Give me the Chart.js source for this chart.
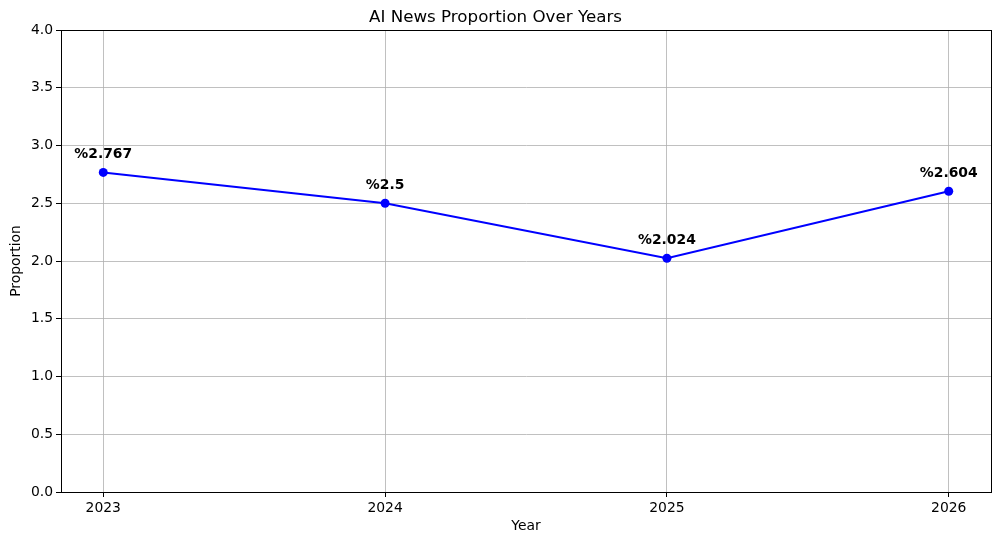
<!DOCTYPE html>
<html>
<head>
<meta charset="utf-8">
<script src="https://cdn.jsdelivr.net/npm/chart.js@4/dist/chart.umd.min.js"></script>
<style>
html,body{margin:0;padding:0;background:#fff;}
#wrap{width:1001px;height:545px;}
</style>
</head>
<body>
<div id="wrap"><canvas id="c" width="1001" height="545"></canvas></div>
<script>
const years = [2023, 2024, 2025, 2026];
const proportions = [2.767, 2.5, 2.024, 2.604];
const pointLabels = ['%2.767', '%2.5', '%2.024', '%2.604'];
const yTicks = [0, 0.5, 1, 1.5, 2, 2.5, 3, 3.5, 4];

const FONT = "'DejaVu Sans', sans-serif";

const framePlugin = {
  id: 'frame',
  afterDatasetsDraw(chart) {
    const {ctx, chartArea: a} = chart;
    ctx.save();
    ctx.strokeStyle = '#000';
    ctx.lineWidth = 1;
    ctx.strokeRect(Math.round(a.left) + 0.5, Math.round(a.top) + 0.5,
                   Math.round(a.right - a.left), Math.round(a.bottom - a.top));
    ctx.restore();
  }
};

const labelPlugin = {
  id: 'ptlabels',
  afterDatasetsDraw(chart) {
    const {ctx} = chart;
    const meta = chart.getDatasetMeta(0);
    ctx.save();
    ctx.font = 'bold 13.9px ' + FONT;
    ctx.fillStyle = '#000';
    ctx.textAlign = 'center';
    ctx.textBaseline = 'alphabetic';
    meta.data.forEach((pt, i) => {
      ctx.fillText(pointLabels[i], pt.x, pt.y - 14.5);
    });
    ctx.restore();
  }
};

new Chart(document.getElementById('c'), {
  type: 'line',
  data: {
    datasets: [{
      data: years.map((y, i) => ({x: y, y: proportions[i]})),
      borderColor: '#0000ff',
      backgroundColor: '#0000ff',
      borderWidth: 2,
      pointRadius: 4.5,
      pointHoverRadius: 4.5,
      pointBackgroundColor: '#0000ff',
      pointBorderWidth: 0,
      tension: 0,
      fill: false
    }]
  },
  options: {
    responsive: false,
    animation: false,
    events: [],
    layout: {padding: {left: 0, right: 10, top: 0, bottom: 0}},
    plugins: {
      legend: {display: false},
      tooltip: {enabled: false},
      title: {
        display: true,
        text: 'AI News Proportion Over Years',
        color: '#000',
        font: {family: FONT, size: 16.7, weight: 'normal', lineHeight: 1.2},
        padding: {top: 8, bottom: 2}
      }
    },
    scales: {
      x: {
        type: 'linear',
        min: 2022.85,
        max: 2026.15,
        afterBuildTicks(scale) { scale.ticks = years.map(v => ({value: v})); },
        afterFit(scale) { scale.height = 53; },
        ticks: {
          color: '#000',
          font: {family: FONT, size: 13.9},
          padding: 3,
          maxRotation: 0,
          callback: v => String(v)
        },
        grid: {color: '#b0b0b0', lineWidth: 0.8, tickColor: '#000', tickLength: 5, tickWidth: 1},
        border: {display: true, color: '#000', width: 1},
        title: {
          display: true,
          text: 'Year',
          color: '#000',
          font: {family: FONT, size: 13.9, lineHeight: 1.2},
          padding: {top: 0, bottom: 10}
        }
      },
      y: {
        type: 'linear',
        min: 0,
        max: 4,
        afterBuildTicks(scale) { scale.ticks = yTicks.map(v => ({value: v})); },
        afterFit(scale) { scale.width = 61; },
        ticks: {
          color: '#000',
          font: {family: FONT, size: 13.9},
          padding: 3,
          callback: v => Number(v).toFixed(1)
        },
        grid: {color: '#b0b0b0', lineWidth: 0.8, tickColor: '#000', tickLength: 5, tickWidth: 1},
        border: {display: true, color: '#000', width: 1},
        title: {
          display: true,
          text: 'Proportion',
          color: '#000',
          font: {family: FONT, size: 13.9, lineHeight: 1.2},
          padding: {top: 8, bottom: 8}
        }
      }
    }
  },
  plugins: [framePlugin, labelPlugin]
});
</script>
</body>
</html>
